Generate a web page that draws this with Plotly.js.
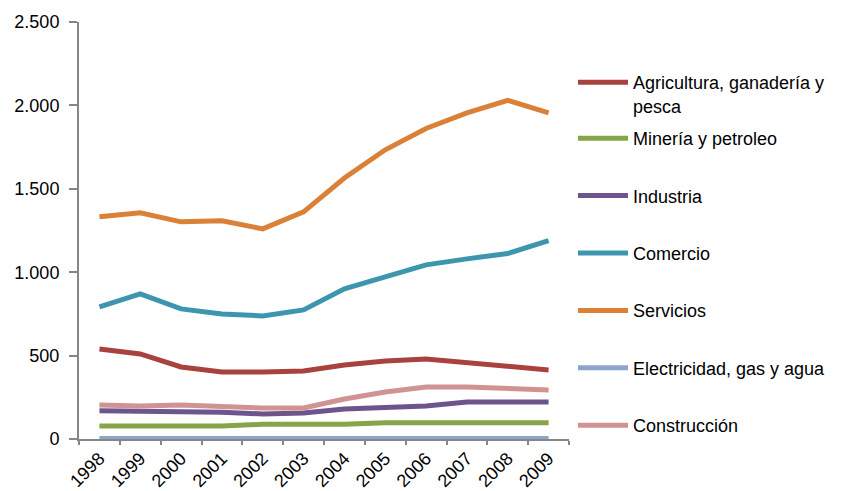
<!DOCTYPE html>
<html>
<head>
<meta charset="utf-8">
<script src="https://cdn.plot.ly/plotly-3.0.1.min.js"></script>
<style>html,body{margin:0;padding:0;background:#fff;}#chart{width:843px;height:491px;}</style>
</head>
<body>
<div id="chart"></div>
<script>
const years = ['1998','1999','2000','2001','2002','2003','2004','2005','2006','2007','2008','2009'];
const agricultura = [540, 510, 432, 402, 402, 408, 444, 468, 480, 456, 432, 414];
const mineria = [78, 78, 78, 78, 88, 88, 88, 98, 98, 98, 98, 98];
const industria = [170, 168, 162, 160, 150, 156, 180, 192, 198, 222, 222, 222];
const comercio = [792, 870, 780, 750, 738, 774, 900, 972, 1044, 1080, 1112, 1190];
const servicios = [1332, 1356, 1302, 1308, 1260, 1362, 1565, 1734, 1862, 1955, 2030, 1955];
const electricidad = [3, 3, 3, 3, 3, 3, 3, 3, 3, 3, 3, 3];
const construccion = [204, 198, 204, 192, 186, 186, 240, 282, 312, 312, 306, 294];

const names = ['Agricultura, ganadería y<br>pesca','Minería y petroleo','Industria','Comercio','Servicios','Electricidad, gas y agua','Construcción'];
const series = [agricultura, mineria, industria, comercio, servicios, electricidad, construccion];
const colors = ['#A8423F','#86A44A','#6E548D','#3D96AE','#DA8137','#8EA5CB','#D09392'];

const traces = series.map((v, i) => ({
  x: years, y: v, type: 'scatter', mode: 'lines', name: names[i],
  line: {color: colors[i], width: 5},
  legendgroup: 'g' + i,
  legend: i === 0 ? 'legend' : 'legend2'
}));

const W = 843, H = 491;
const legendFont = {family: 'Liberation Sans, Arial, sans-serif', size: 18, color: '#000'};
const layout = {
  width: W, height: H,
  margin: {l: 79, r: 274, t: 22, b: 52},
  paper_bgcolor: '#fff', plot_bgcolor: '#fff',
  separators: ',.',
  font: {family: 'Liberation Sans, Arial, sans-serif', color: '#000'},
  xaxis: {
    type: 'category', range: [-0.5, 11.5], tickangle: -45,
    showline: true, linecolor: '#868686', linewidth: 2, layer: 'below traces',
    ticks: 'outside', tickson: 'boundaries', ticklen: 4, tickcolor: '#868686', tickwidth: 2,
    showgrid: false, zeroline: false,
    tickfont: {size: 18, color: '#000'}
  },
  yaxis: {
    range: [0, 2500], dtick: 500, tick0: 0, tickformat: ',d',
    showline: true, linecolor: '#868686', linewidth: 2,
    ticks: 'outside', ticklen: 8, tickcolor: '#868686', tickwidth: 2,
    showgrid: false, zeroline: false,
    tickfont: {size: 18, color: '#000'},
    ticklabelstandoff: 6
  },
  showlegend: true,
  legend: {
    xref: 'container', yref: 'container', x: 573 / W, y: 1 - 64 / H,
    xanchor: 'left', yanchor: 'top', valign: 'top',
    font: legendFont, bgcolor: 'rgba(0,0,0,0)', itemwidth: 50
  },
  legend2: {
    xref: 'container', yref: 'paper', x: 573 / W, y: (439 - 120) / 417,
    xanchor: 'left', yanchor: 'top',
    font: legendFont, bgcolor: 'rgba(0,0,0,0)', itemwidth: 50,
    traceorder: 'grouped', tracegroupgap: 31
  }
};

Plotly.newPlot('chart', traces, layout, {displayModeBar: false, staticPlot: true});
</script>
</body>
</html>
